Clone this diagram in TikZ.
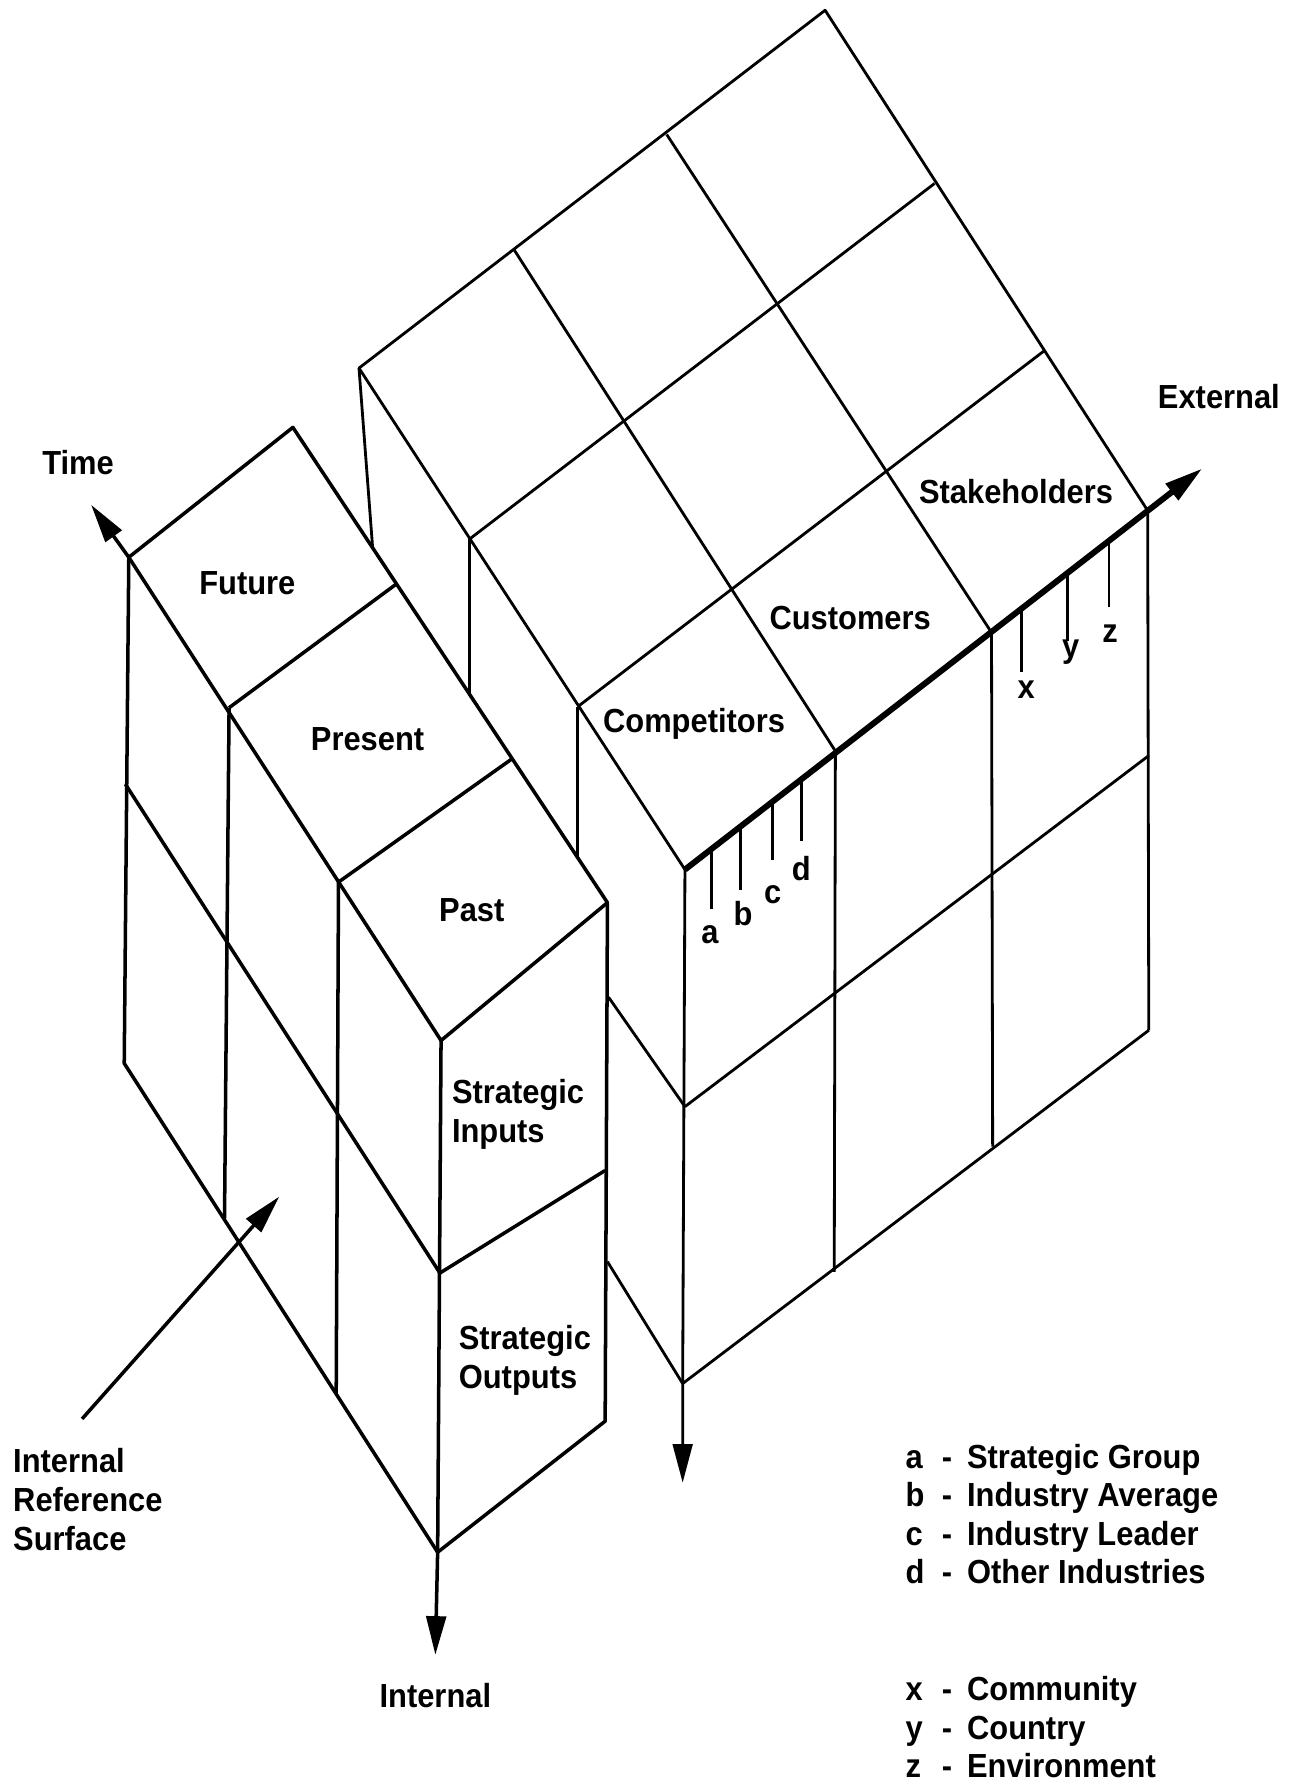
\documentclass[tikz,border=0pt]{standalone}
\usepackage{fontspec}
\setmainfont{Liberation Sans}[FakeStretch=0.925]
\usetikzlibrary{arrows.meta}
\newcommand{\keyline}[2]{\makebox[10.3pt][l]{#1}\makebox[7.2pt][l]{-}#2}

\begin{document}
\begin{tikzpicture}[x=0.011395cm,y=-0.011395cm,
  >={Triangle[length=11pt,width=5.6pt]},
  block/.style={line width=1pt,line join=round},
  grid/.style={line width=.8pt,line join=round},
  ridge/.style={line width=1.7pt},
  lbl/.style={font=\bfseries\fontsize{9.5}{11}\selectfont,inner sep=0pt}]
\useasboundingbox (0,0) rectangle (1140,1568);

% back block: roof
\coordinate (r00) at (315,323);
\coordinate (r10) at (451,219);
\coordinate (r20) at (585,118);
\coordinate (r30) at (724,9);
\coordinate (r01) at (412,473);
\coordinate (r31) at (820,161);
\coordinate (r02) at (507,620);
\coordinate (r32) at (916,308);
\coordinate (r03) at (601,763);
\coordinate (r13) at (733,659);
\coordinate (r23) at (870,555);
\coordinate (r33) at (1007,448);
\coordinate (extTip) at (1055,411);

\draw[grid] (r03) -- (r00) -- (r30) -- (r33);
\draw[grid] (r01) -- (r31);
\draw[grid] (r02) -- (r32);
\draw[grid] (r10) -- (r13);
\draw[grid] (r20) -- (r23);
\draw[ridge,->] (r03) -- (extTip);

% back block: front face
\coordinate (f0m) at (601,971);
\coordinate (f1m) at (733,871);
\coordinate (f2m) at (871,765);
\coordinate (f3m) at (1008,663);
\coordinate (f0b) at (599,1214);
\coordinate (f1b) at (732,1116);
\coordinate (f2b) at (871,1006);
\coordinate (f3b) at (1008,904);
\coordinate (downTip) at (599,1301);

\draw[grid,->] (r03) -- (f0b) -- (downTip);
\draw[grid] (r13) -- (f1b);
\draw[grid] (r23) -- (f2b);
\draw[grid] (r33) -- (f3b);
\draw[grid] (f0m) -- (f3m);
\draw[grid] (f0b) -- (f3b);

% back block: left face, behind the front block
\draw[grid] (r00) -- (327,481);
\draw[grid] (r01) -- (412,609);
\draw[grid] (r02) -- (507,752);
\draw[grid] (534,875) -- (f0m);
\draw[grid] (533,1107) -- (f0b);

% ticks under the ridge
\draw[grid] (624,746) -- (624,798);
\draw[grid] (650,726) -- (650,781);
\draw[grid] (678,704) -- (678,755);
\draw[grid] (703,685) -- (703,738);
\draw[grid] (896.5,535) -- (896.5,590);
\draw[grid] (937,504) -- (937,562);
\draw[grid] (973,475) -- (973,533);
\node[lbl,anchor=base] (tickA) at (623,828) {a};
\node[lbl,anchor=base] (tickB) at (652,812) {b};
\node[lbl,anchor=base] (tickC) at (678,793) {c};
\node[lbl,anchor=base] (tickD) at (703,773) {d};
\node[lbl,anchor=base] (tickX) at (900.5,612.5) {x};
\node[lbl,anchor=base] (tickY) at (939.5,577) {y};
\node[lbl,anchor=base] (tickZ) at (974,564) {z};

% front block
\coordinate (LL) at (113,489);
\coordinate (LT) at (257,375);
\coordinate (LR) at (533,792);
\coordinate (LF) at (387,913);
\coordinate (L1) at (201,621);
\coordinate (L2) at (297,774);
\coordinate (R1) at (347,513);
\coordinate (R2) at (449,666);
\coordinate (LLm) at (110,688);
\coordinate (LFm) at (386,1117);
\coordinate (LRm) at (531,1027);
\coordinate (LLb) at (109,933);
\coordinate (L1b) at (197,1069);
\coordinate (L2b) at (295,1223);
\coordinate (LFb) at (384,1362);
\coordinate (LRb) at (531,1247);
\coordinate (timeTip) at (80,443);
\coordinate (intTip) at (382,1452);

\draw[block] (LL) -- (LT) -- (LR) -- (LF) -- cycle;
\draw[block] (L1) -- (R1);
\draw[block] (L2) -- (R2);
\draw[block] (LL) -- (LLb) -- (LFb) -- (LRb) -- (LR);
\draw[block] (L1) -- (L1b);
\draw[block] (L2) -- (L2b);
\draw[block] (LLm) -- (LFm) -- (LRm);
\draw[block,->] (LF) -- (LFb) -- (intTip);
\draw[block,->] (LL) -- (timeTip);

% labels
\node[lbl,anchor=base] (time) at (68.5,416) {Time};
\node[lbl,anchor=base] (future) at (217,522) {Future};
\node[lbl,anchor=base] (present) at (322.5,658.5) {Present};
\node[lbl,anchor=base] (past) at (414,808.5) {Past};
\node[lbl,anchor=north west,align=left] (inputs) at (396,946.5) {Strategic\\Inputs};
\node[lbl,anchor=north west,align=left] (outputs) at (402,1162.5) {Strategic\\Outputs};
\node[lbl,anchor=base] (internal) at (382,1498) {Internal};
\node[lbl,anchor=north west,align=left] (surface) at (11,1270.5) {Internal\\Reference\\Surface};
\node[lbl,anchor=base] (competitors) at (609,642.5) {Competitors};
\node[lbl,anchor=base] (customers) at (746,552) {Customers};
\node[lbl,anchor=base] (stakeholders) at (891.5,442) {Stakeholders};
\node[lbl,anchor=base] (external) at (1069.5,358) {External};

\coordinate (surfTip) at (245,1050);
\draw[block,->] (72,1245) -- (surfTip);

% key
\node[lbl,anchor=base west] (keyA) at (794,1288.5) {\keyline{a}{Strategic Group}};
\node[lbl,anchor=base west] (keyB) at (794,1322.2) {\keyline{b}{Industry Average}};
\node[lbl,anchor=base west] (keyC) at (794,1355.8) {\keyline{c}{Industry Leader}};
\node[lbl,anchor=base west] (keyD) at (794,1389.5) {\keyline{d}{Other Industries}};
\node[lbl,anchor=base west] (keyX) at (794,1492) {\keyline{x}{Community}};
\node[lbl,anchor=base west] (keyY) at (794,1526) {\keyline{y}{Country}};
\node[lbl,anchor=base west] (keyZ) at (794,1560) {\keyline{z}{Environment}};

\end{tikzpicture}
\end{document}
